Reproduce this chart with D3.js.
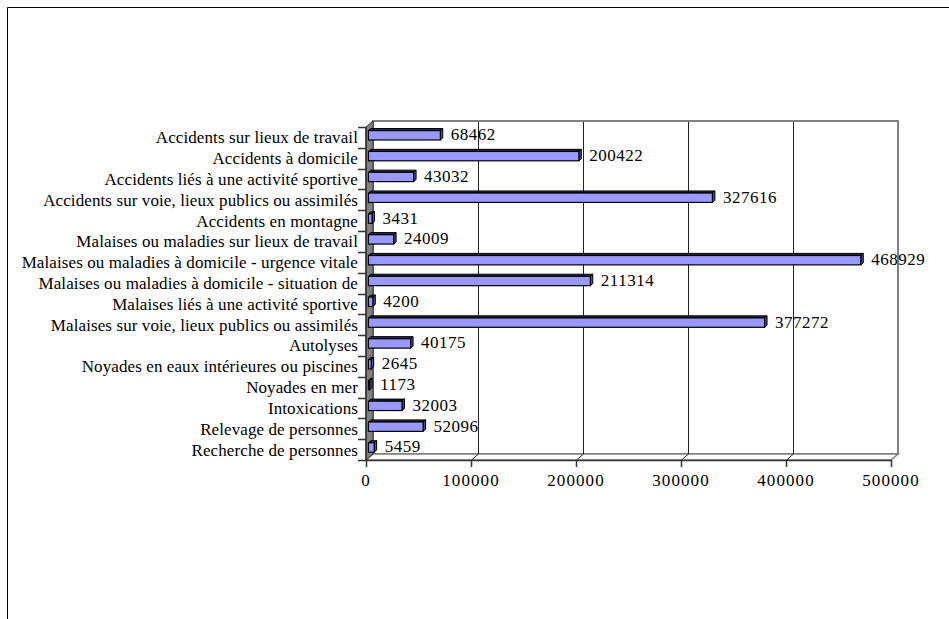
<!DOCTYPE html>
<html>
<head>
<meta charset="utf-8">
<script src="https://cdn.jsdelivr.net/npm/d3@7"></script>
<style>
  html, body { margin: 0; padding: 0; background: #fff; }
  svg { display: block; }
  text { font-family: "Liberation Serif", "Times New Roman", serif; fill: #000; }
</style>
</head>
<body>
<svg id="chart" width="949" height="619"></svg>
<script>
// Interventions by category
const categories = [
  "Accidents sur lieux de travail",
  "Accidents à domicile",
  "Accidents liés à une activité sportive",
  "Accidents sur voie, lieux publics ou assimilés",
  "Accidents en montagne",
  "Malaises ou maladies sur lieux de travail",
  "Malaises ou maladies à domicile - urgence vitale",
  "Malaises ou maladies à domicile - situation de",
  "Malaises liés à une activité sportive",
  "Malaises sur voie, lieux publics ou assimilés",
  "Autolyses",
  "Noyades en eaux intérieures ou piscines",
  "Noyades en mer",
  "Intoxications",
  "Relevage de personnes",
  "Recherche de personnes"
];
const values = [68462, 200422, 43032, 327616, 3431, 24009, 468929, 211314, 4200, 377272, 40175, 2645, 1173, 32003, 52096, 5459];
const xTicks = [0, 100000, 200000, 300000, 400000, 500000];

(function draw() {
  const svg = d3.select("#chart");

  // outer frame
  svg.append("path")
    .attr("d", "M7.5,619 L7.5,7.5 L949,7.5")
    .attr("fill", "none").attr("stroke", "#000").attr("stroke-width", 1);

  // front plane of the 3D box and depth offset
  const pLeft = 366, pRight = 891, pTop = 127, pBottom = 460;
  const DX = 7, DY = -6;

  const x = d3.scaleLinear().domain([0, 500000]).range([pLeft, pRight]);
  const y = d3.scaleBand().domain(categories).range([pTop, pBottom]);
  const crisp = v => Math.round(v) + 0.5;

  const g = svg.append("g");

  // back wall
  g.append("rect")
    .attr("x", pLeft + DX).attr("y", pTop + DY)
    .attr("width", pRight - pLeft).attr("height", pBottom - pTop)
    .attr("fill", "#fff").attr("stroke", "#808080").attr("stroke-width", 2);

  // floor
  g.append("path")
    .attr("d", `M${pLeft},${pBottom} L${pLeft + DX},${pBottom + DY} L${pRight + DX},${pBottom + DY} L${pRight},${pBottom} Z`)
    .attr("fill", "#fff").attr("stroke", "#808080").attr("stroke-width", 1.5);

  // gridlines on back wall and floor
  xTicks.slice(1, -1).forEach(v => {
    const gx = crisp(x(v) + DX);
    g.append("path")
      .attr("d", `M${gx},${pTop + DY + 1} L${gx},${pBottom + DY} L${gx - DX},${pBottom}`)
      .attr("fill", "none").attr("stroke", "#222").attr("stroke-width", 1);
  });

  // left wall
  g.append("path")
    .attr("d", `M${pLeft},${pTop} L${pLeft + DX},${pTop + DY} L${pLeft + DX},${pBottom + DY} L${pLeft},${pBottom} Z`)
    .attr("fill", "#808080").attr("stroke", "#333").attr("stroke-width", 1);

  // value axis line along the floor front edge
  g.append("line")
    .attr("x1", pLeft).attr("x2", pRight).attr("y1", pBottom + 0.5).attr("y2", pBottom + 0.5)
    .attr("stroke", "#333").attr("stroke-width", 1.5);

  // value axis ticks and labels
  const xAxis = g.append("g");
  xTicks.forEach(v => {
    xAxis.append("line")
      .attr("x1", crisp(x(v))).attr("x2", crisp(x(v))).attr("y1", pBottom).attr("y2", pBottom + 7)
      .attr("stroke", "#333").attr("stroke-width", 1.5);
    xAxis.append("text")
      .attr("x", x(v)).attr("y", pBottom + 26)
      .attr("text-anchor", "middle").attr("font-size", 17)
      .attr("letter-spacing", 1.1)
      .text(v);
  });

  // category axis ticks and labels
  const yAxis = g.append("g");
  const bounds = categories.map(c => y(c)).concat([pBottom]);
  bounds.forEach(b => {
    yAxis.append("line")
      .attr("x1", pLeft - 8).attr("x2", pLeft).attr("y1", crisp(b)).attr("y2", crisp(b))
      .attr("stroke", "#333").attr("stroke-width", 1.5);
  });
  yAxis.append("line")
    .attr("x1", pLeft).attr("x2", pLeft).attr("y1", pTop).attr("y2", pBottom)
    .attr("stroke", "#333").attr("stroke-width", 1.5);
  categories.forEach(c => {
    yAxis.append("text")
      .attr("x", pLeft - 8).attr("y", y(c) + y.bandwidth() / 2)
      .attr("dy", "0.35em")
      .attr("text-anchor", "end").attr("font-size", 17)
      .attr("letter-spacing", 0.1)
      .text(c);
  });

  // 3D bars
  const f0 = 0.35, f1 = 0.7;          // bar depth placement inside the box
  const barH = y.bandwidth() * 0.45;
  const bars = g.append("g");
  categories.forEach((c, i) => {
    const v = values[i];
    const yc = y(c) + y.bandwidth() / 2;
    const fx = DX * f0, fy = DY * f0;   // front face offset
    const bx = DX * f1, by = DY * f1;   // back face offset
    const x0 = x(0) + fx, x1 = x(v) + fx;
    const y0 = yc - barH / 2 + fy, y1 = yc + barH / 2 + fy;
    const ddx = bx - fx, ddy = by - fy;
    // top face
    bars.append("path")
      .attr("d", `M${x0},${y0} L${x0 + ddx},${y0 + ddy} L${x1 + ddx},${y0 + ddy} L${x1},${y0} Z`)
      .attr("fill", "#26264d").attr("stroke", "#000").attr("stroke-width", 1);
    // side face
    bars.append("path")
      .attr("d", `M${x1},${y0} L${x1 + ddx},${y0 + ddy} L${x1 + ddx},${y1 + ddy} L${x1},${y1} Z`)
      .attr("fill", "#4d4d99").attr("stroke", "#000").attr("stroke-width", 1);
    // front face
    bars.append("rect")
      .attr("x", x0).attr("y", y0).attr("width", x1 - x0).attr("height", y1 - y0)
      .attr("fill", "#9999ff").attr("stroke", "#000").attr("stroke-width", 1.2);
    // value label
    bars.append("text")
      .attr("x", x1 + ddx + 8).attr("y", yc + fy - 1)
      .attr("dy", "0.35em").attr("font-size", 17)
      .attr("letter-spacing", 0.5)
      .text(v);
  });
})();
</script>
</body>
</html>
